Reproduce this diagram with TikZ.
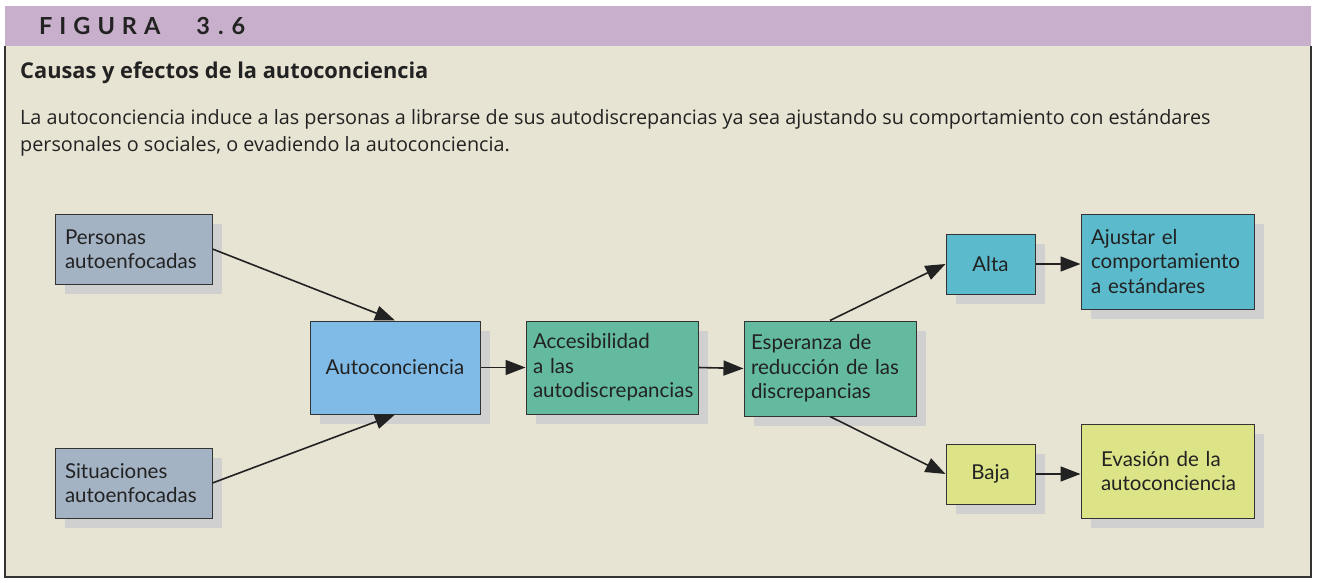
\documentclass[tikz,border=0pt]{standalone}
\usepackage{fontspec}
\setmainfont{Lato}
\newfontfamily\parafont{Open Sans}
\usetikzlibrary{arrows.meta,shadows}
\definecolor{hdr}{HTML}{C8AFCB}
\definecolor{bgc}{HTML}{E8E4D3}
\definecolor{grayblue}{HTML}{A3B3C4}
\definecolor{skyb}{HTML}{7FBBE6}
\definecolor{myteal}{HTML}{63BA9E}
\definecolor{cyanb}{HTML}{5BBACB}
\definecolor{ylw}{HTML}{DDE488}
\definecolor{shd}{HTML}{D0D0D0}
\definecolor{edgec}{HTML}{333333}
\definecolor{ink}{HTML}{222222}
\tikzset{
  box/.style={draw=edgec, line width=1pt, inner sep=0pt,
    drop shadow={shadow xshift=10pt, shadow yshift=-10pt, fill=shd, opacity=1},
    font=\fontsize{20.5}{24.5}\selectfont, text=ink},
  arr/.style={-{Triangle[length=20pt,width=15pt]}, line width=1.6pt, draw=ink},
  txt/.style={anchor=base west, inner sep=0pt, text=ink}
}
\begin{document}
\begin{tikzpicture}[x=1pt,y=-1pt]
\useasboundingbox (0,0) rectangle (1318,583);
\fill[white] (0,0) rectangle (1318,583);
\fill[bgc] (5,46) rectangle (1311,577);
\fill[hdr] (5,6) rectangle (1311,46);
\draw[edgec, line width=1.3pt] (5,46) -- (5,577) -- (1311,577) -- (1311,46);

\node[txt, font=\fontsize{23.5}{24}\bfseries] (hd) at (39,35)
  {F\hspace{7pt}I\hspace{7pt}G\hspace{7pt}U\hspace{7pt}R\hspace{7pt}A\hspace{36pt}3\hspace{8pt}.\hspace{8pt}6};
\node[txt, font=\parafont\fontsize{21.8}{24}\bfseries] (title) at (20,79) {Causas y efectos de la autoconciencia};
\node[txt, font=\parafont\fontsize{19.8}{24}\selectfont] (par1) at (20,125)
  {La autoconciencia induce a las personas a librarse de sus autodiscrepancias ya sea ajustando su comportamiento con estándares};
\node[txt, font=\parafont\fontsize{19.8}{24}\selectfont] (par2) at (20,152)
  {personales o sociales, o evadiendo la autoconciencia.};

\node[box, fill=grayblue, minimum width=157pt, minimum height=70pt, text width=137pt, align=left] (p) at (133.5,249) {Personas\\autoenfocadas};
\node[box, fill=grayblue, minimum width=157pt, minimum height=70pt, text width=137pt, align=left] (s) at (133.5,483) {Situaciones\\autoenfocadas};
\node[box, fill=skyb, minimum width=170pt, minimum height=93pt, align=center] (a) at (395,367.5) {Autoconciencia};
\node[box, fill=myteal, minimum width=172pt, minimum height=93pt, text width=158pt, align=left] (acc) at (612,367.5) {Accesibilidad\\a las\\autodiscrepancias};
\node[box, fill=myteal, minimum width=172pt, minimum height=95pt, text width=158pt, align=left] (esp) at (830,368.5) {Esperanza de\\reducción de las\\discrepancias};
\node[box, fill=cyanb, minimum width=89pt, minimum height=60pt, align=center] (alta) at (990.5,264) {Alta};
\node[box, fill=cyanb, minimum width=173pt, minimum height=95pt, text width=153pt, align=left] (ajus) at (1167.5,261.5) {Ajustar el\\comportamiento\\a estándares};
\node[box, fill=ylw, minimum width=89pt, minimum height=60pt, align=center] (baja) at (990.5,474) {Baja};
\node[box, fill=ylw, minimum width=173pt, minimum height=94pt, text width=133pt, align=left] (eva) at (1167.5,471) {Evasión de la\\autoconciencia};

\draw[arr] (p.east) -- (a.north);
\draw[arr] (s.east) -- (a.south);
\draw[arr] (a.east) -- (acc.west);
\draw[arr] (acc.east) -- (esp.west);
\draw[arr] (esp.north) -- (alta.west);
\draw[arr] (esp.south) -- (baja.west);
\draw[arr] (alta.east) -- (alta.east -| ajus.west);
\draw[arr] (baja.east) -- (baja.east -| eva.west);
\end{tikzpicture}
\end{document}
